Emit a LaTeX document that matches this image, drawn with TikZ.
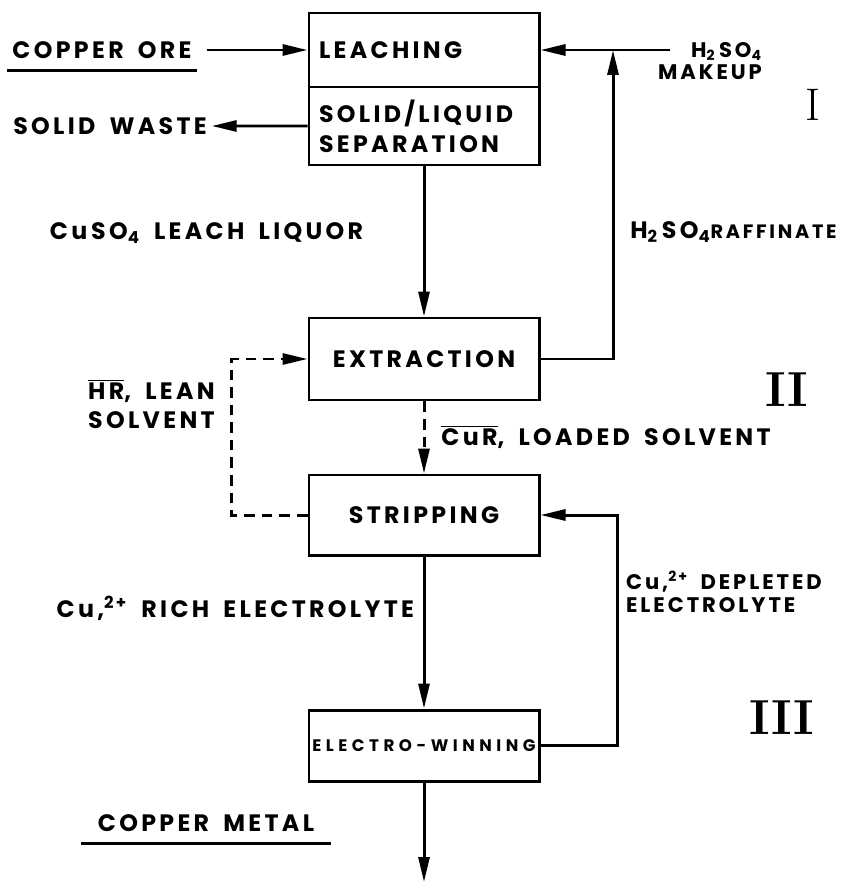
\documentclass[tikz,border=0pt]{standalone}
\usepackage{fontspec}
\usepackage{tikz}
\usetikzlibrary{arrows.meta, positioning}
\newfontfamily\hand[LetterSpace=14, WordSpace=1.7]{Poppins}
\newfontfamily\handwide[LetterSpace=27]{Poppins}

\begin{document}
\begin{tikzpicture}[
    line width=1.7pt,
    unit/.style={draw, minimum width=4.6cm, inner sep=0pt, font=\hand\bfseries\fontsize{13.5}{17}\selectfont},
    txt/.style={inner sep=2pt, font=\hand\bfseries\fontsize{13.5}{17}\selectfont},
    small/.style={txt, font=\hand\bfseries\fontsize{12}{13}\selectfont},
    uline/.style={txt, inner ysep=6pt},
    flow/.style={-{Triangle[length=0.5cm, width=0.22cm]}},
    dflow/.style={flow, dash pattern=on 6pt off 4pt},
    stage/.style={font=\fontsize{26}{26}\selectfont}
]
    \useasboundingbox (0,0) rectangle (17.02,-17.64);

    % Units
    \node[unit, minimum height=1.48cm, text width=4.2cm, align=left] (leach) at (8.48,-1.0) {LEACHING};
    \node[unit, minimum height=1.56cm, text width=4.2cm, align=left, below=-1.7pt of leach] (sep) {SOLID/LIQUID\\SEPARATION};
    \node[unit, minimum height=1.64cm] (extr) at (8.48,-7.18) {EXTRACTION};
    \node[unit, minimum height=1.6cm] (strip) at (8.48,-10.3) {STRIPPING};
    \node[unit, minimum height=1.42cm, font=\handwide\bfseries\fontsize{9.5}{10}\selectfont] (ew) at (8.48,-14.91) {ELECTRO-WINNING};

    % Feeds and products
    \node[uline, inner xsep=2pt] (ore) at (2.04,-1.0) {COPPER ORE};
    \draw (ore.south west) -- (ore.south east);
    \node[txt] (waste) at (2.2,-2.52) {SOLID\ WASTE};
    \node[small, align=right] (mktxt) at (14.2,-1.22) {H\textsubscript{2}\,SO\textsubscript{4}\\MAKEUP};
    \coordinate (mk) at (13.4,-1.0);
    \coordinate (jn) at (12.26,-1.0);
    \node[uline, inner xsep=0.3cm] (metal) at (4.12,-16.46) {COPPER METAL};
    \draw (metal.south west) -- (metal.south east);
    \coordinate (out) at (8.48,-17.64);

    % Stream labels
    \node[txt] (liquor) at (4.13,-4.66) {Cu\,SO\textsubscript{4} LEACH LIQUOR};
    \node[txt] (raff) at (14.67,-4.64) {H\textsubscript{2}\,SO\textsubscript{4}{\fontsize{11}{12}\selectfont RAFFINATE}};
    \node[txt, align=left] (lean) at (3.03,-8.08) {$\overline{\mbox{HR}}$, LEAN\\SOLVENT};
    \node[txt] (loaded) at (12.12,-8.74) {$\overline{\mbox{CuR}}$, LOADED SOLVENT};
    \node[txt, anchor=east] (rich) at (8.38,-12.16) {Cu,\textsuperscript{2+} RICH ELECTROLYTE};
    \node[small, align=left, anchor=west] (depl) at (12.42,-11.84) {Cu,\textsuperscript{2+} DEPLETED\\ELECTROLYTE};

    % Stages
    \node[stage] (s1) at (16.26,-2.1) {I};
    \node[stage, font=\bfseries\fontsize{28}{28}\selectfont] (s2) at (15.74,-7.8) {II};
    \node[stage, font=\bfseries\fontsize{28}{28}\selectfont] (s3) at (15.64,-14.36) {III};

    % Arrows
    \draw[flow, shorten <=0.2cm] (ore.east) -- (leach.west);
    \draw[flow] (sep.west) -- (waste.east);
    \draw[flow] (mk) -- (leach.east);
    \draw[flow] (sep.south) -- (extr.north);
    \draw[flow] (extr.east) -| (jn);
    \draw[dflow] (extr.south) -- (strip.north);
    \draw[dflow] (strip.west) -- ++(-1.52,0) |- (extr.west);
    \draw[flow] (strip.south) -- (ew.north);
    \draw[flow] (ew.east) -- ++(1.54,0) |- (strip.east);
    \draw[flow] (ew.south) -- (out);
\end{tikzpicture}
\end{document}
